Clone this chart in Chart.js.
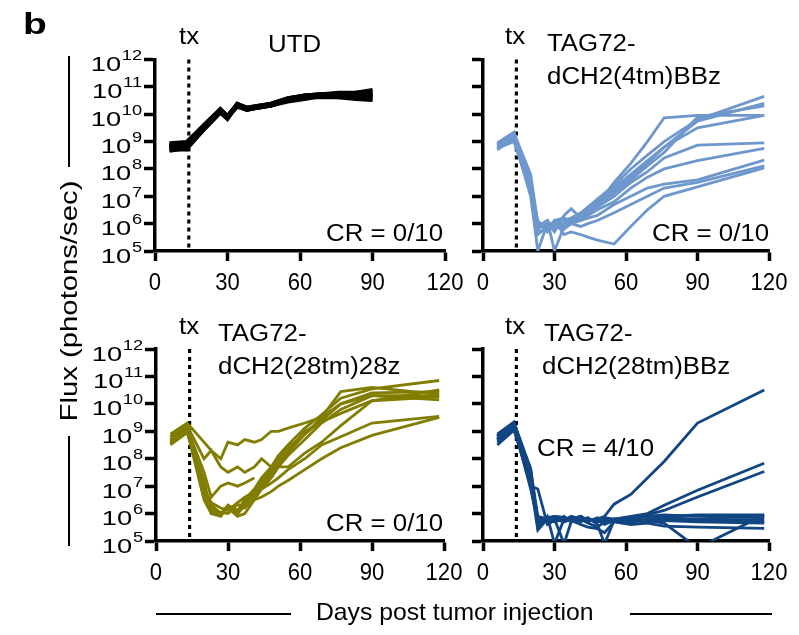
<!DOCTYPE html>
<html>
<head>
<meta charset="utf-8">
<script src="https://cdn.jsdelivr.net/npm/chart.js@4.4.1/dist/chart.umd.min.js"></script>
<style>
  body { margin: 0; background: #fff; width: 799px; height: 635px; position: relative; overflow: hidden;
         font-family: "Liberation Sans", Arial, sans-serif; }
  canvas { position: absolute; left: 0; top: 0; }
  .t { position: absolute; color: #000; white-space: nowrap; line-height: 1; font-size: 23.5px;
       transform: scaleX(1.1); transform-origin: 0 0; }
  .rule { position: absolute; background: #000; }
</style>
</head>
<body>
<canvas id="utd" width="799" height="635"></canvas>
<canvas id="bbz4" width="799" height="635"></canvas>
<canvas id="z28" width="799" height="635"></canvas>
<canvas id="bbz28" width="799" height="635"></canvas>

<!-- panel letter and panel titles -->
<div class="t" style="left:23px;top:9px;font-size:30px;font-weight:bold;transform:scaleX(1.3)">b</div>

<div class="t" style="left:179px;top:25px">tx</div>
<div class="t" style="left:268px;top:33px">UTD</div>
<div class="t" style="left:326px;top:222px">CR = 0/10</div>

<div class="t" style="left:505px;top:25px">tx</div>
<div class="t" style="left:547px;top:32px">TAG72-</div>
<div class="t" style="left:547px;top:65px">dCH2(4tm)BBz</div>
<div class="t" style="left:652px;top:222px">CR = 0/10</div>

<div class="t" style="left:179px;top:315px">tx</div>
<div class="t" style="left:218px;top:322px">TAG72-</div>
<div class="t" style="left:218px;top:355px">dCH2(28tm)28z</div>
<div class="t" style="left:326px;top:512px">CR = 0/10</div>

<div class="t" style="left:505px;top:315px">tx</div>
<div class="t" style="left:544px;top:322px">TAG72-</div>
<div class="t" style="left:542px;top:355px">dCH2(28tm)BBz</div>
<div class="t" style="left:537px;top:437px">CR = 4/10</div>

<!-- shared axis titles -->
<div class="rule" style="left:68px;top:56px;width:2.3px;height:111px"></div>
<div class="rule" style="left:68px;top:436px;width:2.3px;height:110px"></div>
<div class="t" style="left:69px;top:301px;font-size:24px;transform:translate(-50%,-50%) rotate(-90deg) scaleX(1.22);transform-origin:50% 50%">Flux (photons/sec)</div>

<div class="rule" style="left:156px;top:613px;width:135px;height:2.3px"></div>
<div class="rule" style="left:630px;top:613px;width:142px;height:2.3px"></div>
<div class="t" style="left:316px;top:600px;font-size:24px;transform:scaleX(1.03)">Days post tumor injection</div>

<script>
// axis ticks
const dayTicks = [0, 30, 60, 90, 120];
const fluxTicks = [1e5, 1e6, 1e7, 1e8, 1e9, 1e10, 1e11, 1e12];
const fluxExp = [5, 6, 7, 8, 9, 10, 11, 12];
const txDay = 14;

// UTD, photons/sec per mouse
const utdDays = [6, 13, 20, 27, 30, 34, 38, 41, 48, 55, 62, 69, 76, 83, 90];
const utdFlux = [
  [8.9e8, 1e9, 4e9, 1.6e10, 8.9e9, 2.5e10, 1.8e10, 2e10, 2.5e10, 4e10, 5e10, 5.6e10, 6.3e10, 6.3e10, 7.1e10],
  [7.9e8, 7.1e8, 3.5e9, 1.4e10, 7.9e9, 2.2e10, 1.6e10, 1.8e10, 2.2e10, 3.5e10, 4.5e10, 5e10, 5.6e10, 5e10, 5.6e10],
  [6.3e8, 5.6e8, 2.8e9, 1.3e10, 7.1e9, 2e10, 1.4e10, 1.6e10, 2e10, 3.2e10, 4e10, 4.5e10, 4.5e10, 4e10, 4e10],
  [5e8, 5e8, 2.5e9, 1.1e10, 7.1e9, 1.8e10, 1.4e10, 1.6e10, 2e10, 3.2e10, 4e10, 4e10, 4e10, 3.5e10, 3.2e10],
  [7.1e8, 7.9e8, 3.2e9, 1.4e10, 7.9e9, 2.5e10, 1.6e10, 1.8e10, 2.2e10, 3.5e10, 4.5e10, 5e10, 5e10, 5.6e10, 6.3e10],
  [5.6e8, 6.3e8, 3.2e9, 1.3e10, 7.9e9, 2e10, 1.6e10, 1.6e10, 2.2e10, 3.2e10, 4e10, 5e10, 5e10, 4.5e10, 5e10],
  [7.9e8, 6.3e8, 3.5e9, 1.6e10, 8.9e9, 2.2e10, 1.8e10, 1.8e10, 2.5e10, 4e10, 5e10, 5.6e10, 5e10, 5e10, 4.5e10],
  [4.5e8, 5.6e8, 2.5e9, 1.1e10, 6.3e9, 2e10, 1.4e10, 1.6e10, 2e10, 2.8e10, 3.5e10, 4.5e10, 4e10, 4e10, 3.5e10],
  [6.3e8, 8.9e8, 4e9, 1.6e10, 8.9e9, 2.5e10, 1.8e10, 2e10, 2.5e10, 3.5e10, 5e10, 5.6e10, 5.6e10, 6.3e10, 7.9e10],
  [7.1e8, 5e8, 2.8e9, 1.3e10, 7.1e9, 2.2e10, 1.6e10, 1.6e10, 2e10, 3.2e10, 4e10, 4.5e10, 4.5e10, 4.5e10, 5e10]
];

// TAG72-dCH2(4tm)BBz
const bbz4Days = [6, 13, 20, 23, 27, 30, 34, 37, 41, 44, 48, 55, 62, 69, 76, 90, 118];
const bbz4Flux = [
  [7.9e8, 2e9, 6.3e7, 1e6, 7.9e5, 1e6, 1.3e6, 1.6e6, 2.5e6, 4e6, 7.9e6, 2.5e7, 1e8, 3.2e8, 1e9, 6.3e9, 4.5e10],
  [7.1e8, 1.6e9, 3.2e7, 7.9e5, 1.3e6, 6.3e5, 1e6, 1.6e6, 2e6, 3.2e6, 6.3e6, 1.6e7, 5e7, 1.6e8, 6.3e8, 5.6e9, 2.5e10],
  [6.3e8, 1.3e9, 2e7, 1.3e6, 5e5, 1.3e6, 1.6e6, 1.3e6, 2e6, 4e6, 5e6, 1.3e7, 4e7, 1.3e8, 4e8, 7.9e9, 2e10],
  [8.9e8, 2.2e9, 4e7, 1e6, 6.3e5, 7.9e5, 1e6, 1.3e6, 1.3e6, 2e6, 5e6, 3.2e7, 1.6e8, 1e9, 7.4e9, 9.1e9, 9.1e9],
  [5.6e8, 1e9, 1.6e7, 6.3e5, 1e6, 1e6, 7.9e5, 1e6, 2e6, 3.2e6, 5e6, 2e7, 6.3e7, 2e8, 6.3e8, 3.2e9, 9.1e9],
  [7.9e8, 1.8e9, 2.5e7, 4e5, 7.9e5, 1e6, 1.6e6, 1e6, 1.6e6, 2.5e6, 4e6, 1e7, 3.2e7, 7.9e7, 2.5e8, 7.4e8, 8.9e8],
  [5e8, 1.3e9, 1e7, 1e5, 1e6, 5e5, 2e6, 3.5e6, 1.6e6, 2e6, 3.2e6, 6.3e6, 2e7, 5e7, 1e8, 2e8, 5.6e8],
  [7.1e8, 1.4e9, 2e7, 7.9e5, 1.3e6, 1e5, 7.9e5, 1e6, 1.3e6, 1.6e6, 2e6, 5e6, 1e7, 2e7, 2.8e7, 4e7, 2.1e8],
  [6.3e8, 1.1e9, 1.3e7, 1e6, 6.3e5, 1.3e6, 4e5, 5e5, 4e5, 3.2e5, 2.5e5, 1.8e5, 7.9e5, 3.2e6, 1e7, 2.2e7, 1.1e8],
  [5.6e8, 1.6e9, 3.2e7, 5e5, 6.3e5, 7.9e5, 6.3e5, 1e6, 7.9e5, 1e6, 1.3e6, 2.5e6, 5e6, 1e7, 2e7, 3.2e7, 1.3e8]
];

// TAG72-dCH2(28tm)28z
const z28Days = [6, 13, 20, 23, 27, 30, 34, 37, 41, 44, 48, 51, 55, 62, 69, 77, 90, 118];
const z28Flux = [
  [7.9e8, 2e9, 4e8, 2e8, 1e8, 4e8, 3.2e8, 5e8, 4e8, 5e8, 1e9, 1e9, 1.3e9, 2e9, 3.2e9, 1e10, 2e10, 2e10],
  [5e8, 1.6e9, 1e8, 2e8, 5e7, 3.2e7, 5e7, 3.2e7, 5e7, 1e8, 5e7, 5e7, 5e7, 1.6e8, 4e8, 1.6e9, 1.3e10, 3.2e10],
  [6.3e8, 1.3e9, 3.2e7, 4e6, 1e7, 1.3e7, 1e7, 1.3e7, 2e7],
  [4e8, 1e9, 1e7, 2e6, 1e6, 1.6e6, 1.3e6, 3.2e6, 7.9e6, 2e7, 5e7, 1.3e8, 3.2e8, 1.3e9, 4e9, 1.6e10, 3.5e10, 7.1e10],
  [3.2e8, 8.9e8, 1.6e7, 1e6, 7.9e5, 2e6, 1e6, 2e6, 6.3e6, 1.6e7, 4e7, 1e8, 2.5e8, 7.9e8, 2.5e9, 1e10, 2.5e10, 2.8e10],
  [6.3e8, 1.6e9, 6.3e6, 1.6e6, 1.1e6, 1e6, 2.2e6, 1.6e6, 4e6, 1e7, 2.5e7, 6.3e7, 1.6e8, 7.9e8, 3.2e9, 2.8e10, 4e10, 2.2e10],
  [4e8, 1.3e9, 4e6, 1.3e6, 8.9e5, 1.6e6, 7.9e5, 1e6, 3.2e6, 7.9e6, 2e7, 5e7, 1.3e8, 5e8, 2e9, 6.3e9, 2e10, 1.4e10],
  [5e8, 1e9, 7.9e6, 2.5e6, 1.6e6, 1.3e6, 2.5e6, 4e6, 6.3e6, 1.3e7, 3.2e7, 7.9e7, 2e8, 1e9, 2.2e9, 4.5e9, 1.3e10, 1.8e10],
  [3.5e8, 1e9, 3.2e6, 1e6, 8.9e5, 1.8e6, 1e6, 2e6, 3.2e6, 4e6, 6.3e6, 1e7, 1.6e7, 4e7, 1e8, 2.5e8, 7.1e8, 3.2e9],
  [4.5e8, 1.1e9, 5e6, 2e6, 1e6, 2e6, 1.3e6, 2.8e6, 5e6, 7.9e6, 1.3e7, 2e7, 4e7, 1e8, 3.2e8, 6.3e8, 2e9, 3.5e9]
];

// TAG72-dCH2(28tm)BBz
const bbz28Days = [6, 13, 20, 23, 27, 30, 34, 37, 41, 44, 48, 51, 55, 62, 69, 76, 90, 118];
const bbz28Flux = [
  [7.9e8, 2.2e9, 4e7, 7.9e5, 6.3e5, 7.1e5, 5e5, 6.3e5, 7.9e5, 5.6e5, 6.3e5, 7.9e5, 2.2e6, 5e6, 2e7, 7.9e7, 2e9, 3.2e10],
  [6.3e8, 2e9, 3.2e7, 5e5, 6.3e5, 7.9e5, 7.1e5, 5.6e5, 6.3e5, 5e5, 7.1e5, 5.6e5, 6.3e5, 7.9e5, 1e6, 2e6, 7.1e6, 6.8e7],
  [5e8, 1.6e9, 1e7, 7.9e6, 4e5, 5.6e5, 7.9e5, 5e5, 5.6e5, 6.3e5, 5e5, 6.3e5, 5.6e5, 7.1e5, 8.9e5, 1.3e6, 4e6, 3.4e7],
  [7.1e8, 1.8e9, 4.5e7, 3.2e5, 7.9e5, 8e4, 6.3e5, 7.1e5, 5e5, 6.3e5, 5.6e5, 7.1e5, 5e5, 6.3e5, 7.9e5, 7.9e5, 8.9e5, 8.9e5],
  [4e8, 1.3e9, 2e7, 4e5, 5.6e5, 6.3e5, 8e4, 5e5, 7.1e5, 5.6e5, 6.3e5, 4e5, 5.6e5, 5e5, 6.3e5, 7.1e5, 6.3e5, 5.9e5],
  [5.6e8, 1.6e9, 7.9e6, 5.6e5, 5e5, 7.1e5, 5.6e5, 7.9e5, 6.3e5, 4.5e5, 3.2e5, 5e5, 6.3e5, 5.6e5, 5e5, 5.6e5, 5e5, 4.5e5],
  [3.2e8, 1.1e9, 1.3e7, 2.5e5, 6.3e5, 5e5, 6.3e5, 5.6e5, 4e5, 3.2e5, 2.8e5, 2e5, 5e5, 4e5, 4.5e5, 3.5e5, 3.2e5, 2.9e5],
  [6.3e8, 2e9, 2.5e7, 6.3e5, 7.1e5, 5.6e5, 6.3e5, 7.1e5, 5.6e5, 6.3e5, 5e5, 5.6e5, 6.3e5, 5e5, 5.6e5, 4.5e5, 5.6e4, 8.9e5],
  [4.5e8, 1.4e9, 1e7, 5e5, 5.6e5, 6.3e5, 5e5, 6.3e5, 5.6e5, 7.1e5, 4e5, 8e4, 5.6e5, 6.3e5, 5.6e5, 6.3e5, 5.6e5, 5e5],
  [5e8, 1.8e9, 3.2e7, 4e5, 7.1e5, 7.9e5, 7.1e5, 6.3e5, 7.9e5, 5.6e5, 6.3e5, 7.1e5, 6.3e5, 7.1e5, 7.9e5, 8.9e5, 7.9e5, 7.1e5]
];

const FONT = '"Liberation Sans", Arial, sans-serif';

// tx line and Prism-style tick labels (10 with superscript exponent)
const panelDeco = {
  id: 'panelDeco',
  beforeDatasetsDraw(chart) {
    const { ctx, chartArea: a, scales: { x } } = chart;
    const px = x.getPixelForValue(txDay);
    ctx.save();
    ctx.strokeStyle = '#000';
    ctx.lineWidth = 3.2;
    ctx.setLineDash([4, 4]);
    ctx.beginPath();
    ctx.moveTo(px, a.top);
    ctx.lineTo(px, a.bottom);
    ctx.stroke();
    ctx.restore();
  },
  afterDraw(chart, args, opts) {
    const { ctx, chartArea: a, scales: { x, y } } = chart;
    ctx.save();
    ctx.fillStyle = '#000';
    ctx.textBaseline = 'alphabetic';
    ctx.textAlign = 'center';
    ctx.font = '24px ' + FONT;
    dayTicks.forEach(d => {
      ctx.save();
      ctx.translate(x.getPixelForValue(d), a.bottom + 39);
      ctx.scale(0.92, 1);
      ctx.fillText(String(d), 0, 0);
      ctx.restore();
    });
    if (opts.yLabels) {
      ctx.textAlign = 'right';
      fluxTicks.forEach((v, i) => {
        const exp = String(fluxExp[i]);
        ctx.save();
        ctx.translate(a.left - 13, y.getPixelForValue(v));
        ctx.scale(1.3, 1);
        ctx.font = '14px ' + FONT;
        const ew = ctx.measureText(exp).width;
        ctx.fillText(exp, 0, 0.5);
        ctx.font = '21px ' + FONT;
        ctx.fillText('10', -ew - 0.5, 11.5);
        ctx.restore();
      });
    }
    ctx.restore();
  }
};
Chart.register(panelDeco);

const axisLine = { display: true, color: '#000', width: 3.5 };

function drawPanel(id, area, days, flux, color, lineWidth, yLabels) {
  return new Chart(document.getElementById(id), {
    type: 'line',
    data: {
      datasets: flux.map(mouse => ({
        data: mouse.map((v, i) => ({ x: days[i], y: v })),
        borderColor: color,
        borderWidth: lineWidth,
        pointRadius: 0,
        fill: false,
        tension: 0
      }))
    },
    options: {
      responsive: false,
      animation: false,
      events: [],
      layout: { padding: { left: area.l, top: area.t, right: 799 - area.r, bottom: 635 - area.b } },
      plugins: {
        legend: { display: false },
        tooltip: { enabled: false },
        panelDeco: { yLabels }
      },
      scales: {
        x: {
          type: 'linear', min: 0, max: 120,
          afterBuildTicks: s => { s.ticks = dayTicks.map(v => ({ value: v })); },
          afterFit: s => { s.height = 0; },
          ticks: { display: false },
          grid: { drawOnChartArea: false, drawTicks: true, tickLength: 10, tickWidth: 3.5, tickColor: '#000' },
          border: axisLine
        },
        y: {
          type: 'logarithmic', min: 1e5, max: 1e12,
          afterBuildTicks: s => { s.ticks = fluxTicks.map(v => ({ value: v })); },
          afterFit: s => { s.width = 0; },
          ticks: { display: false },
          grid: { drawOnChartArea: false, drawTicks: true, tickLength: 11, tickWidth: 3.5, tickColor: '#000' },
          border: axisLine
        }
      }
    }
  });
}

drawPanel('utd',   { l: 155, r: 445, t: 59.5, b: 251 }, utdDays,   utdFlux,   '#000000', 3.2, true);
drawPanel('bbz4',  { l: 483, r: 769, t: 59.5, b: 251 }, bbz4Days,  bbz4Flux,  '#6e98cd', 2.8, false);
drawPanel('z28',   { l: 156, r: 444, t: 349,  b: 541 }, z28Days,   z28Flux,   '#807d00', 2.8, true);
drawPanel('bbz28', { l: 483, r: 769, t: 349,  b: 541 }, bbz28Days, bbz28Flux, '#114682', 2.8, false);
</script>
</body>
</html>
